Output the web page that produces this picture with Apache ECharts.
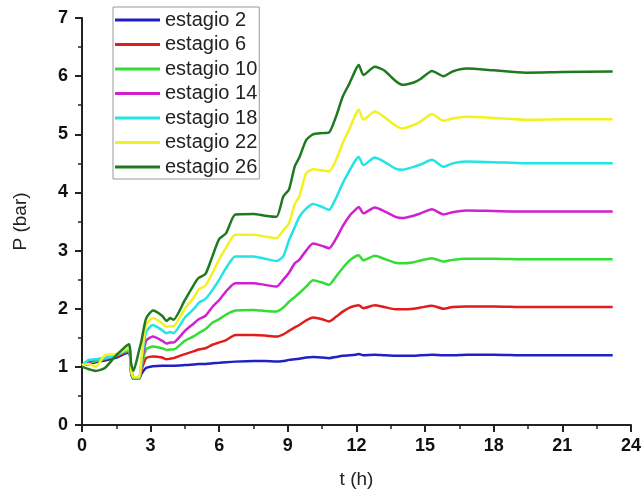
<!DOCTYPE html>
<html>
<head>
<meta charset="utf-8">
<script src="https://cdn.jsdelivr.net/npm/echarts@6/dist/echarts.min.js"></script>
<style>
html,body{margin:0;padding:0;background:#fff;}
#chart{width:644px;height:496px;}
</style>
</head>
<body>
<div id="chart"></div>
<script>
// time in hours (shared by all series)
var hours = [0, 0.3, 0.6, 1.0, 1.5, 2.05, 2.15, 2.25, 2.5, 2.6, 2.8, 3.1, 3.5, 3.7, 3.85, 4.0, 4.5, 4.9, 5.1, 5.4, 5.7, 6.0, 6.3, 6.7, 7.5, 8.0, 8.5, 8.8, 9.05, 9.3, 9.5, 9.8, 10.1, 10.5, 10.8, 11.1, 11.4, 11.7, 11.95, 12.1, 12.3, 12.8, 13.2, 13.7, 14.0, 14.5, 14.8, 15.3, 15.8, 16.2, 16.8, 18.0, 19.4, 21, 23.2];

var seriesNames = ['estagio 2', 'estagio 6', 'estagio 10', 'estagio 14', 'estagio 18', 'estagio 22', 'estagio 26'];
var seriesColors = ['#2020c4', '#e01c1c', '#33dd33', '#d020d0', '#22e4e4', '#f2f222', '#1f7a1f'];

var estagio2 = [1.03, 1.05, 1.08, 1.11, 1.16, 1.25, 0.9, 0.8, 0.8, 0.88, 0.98, 1.01, 1.02, 1.02, 1.02, 1.02, 1.03, 1.04, 1.05, 1.05, 1.06, 1.07, 1.08, 1.09, 1.1, 1.1, 1.09, 1.1, 1.12, 1.13, 1.14, 1.16, 1.17, 1.16, 1.15, 1.17, 1.19, 1.2, 1.21, 1.22, 1.2, 1.21, 1.2, 1.19, 1.19, 1.19, 1.2, 1.21, 1.2, 1.2, 1.21, 1.21, 1.2, 1.2, 1.2];
var estagio6 = [1.03, 1.06, 1.1, 1.13, 1.18, 1.27, 0.9, 0.8, 0.8, 0.95, 1.15, 1.18, 1.16, 1.13, 1.14, 1.15, 1.22, 1.27, 1.3, 1.32, 1.38, 1.42, 1.46, 1.55, 1.55, 1.54, 1.52, 1.56, 1.62, 1.68, 1.72, 1.8, 1.85, 1.82, 1.78, 1.86, 1.95, 2.02, 2.05, 2.06, 2.01, 2.06, 2.03, 1.99, 1.99, 2.0, 2.02, 2.05, 2.0, 2.03, 2.04, 2.04, 2.03, 2.03, 2.03];
var estagio10 = [1.03, 1.07, 1.1, 1.14, 1.2, 1.28, 0.92, 0.8, 0.8, 1.0, 1.3, 1.35, 1.32, 1.29, 1.3, 1.3, 1.45, 1.53, 1.58, 1.65, 1.76, 1.82, 1.9, 1.97, 1.98, 1.96, 1.95, 2.02, 2.12, 2.2, 2.27, 2.38, 2.49, 2.45, 2.41, 2.55, 2.7, 2.83, 2.9, 2.92, 2.83, 2.91, 2.86, 2.79, 2.78, 2.8, 2.83, 2.87, 2.81, 2.84, 2.86, 2.86, 2.85, 2.85, 2.85];
var estagio14 = [1.03, 1.08, 1.13, 1.15, 1.2, 1.3, 0.95, 0.82, 0.82, 1.05, 1.45, 1.52, 1.45, 1.4, 1.42, 1.42, 1.62, 1.75, 1.82, 1.88, 2.03, 2.15, 2.3, 2.44, 2.44, 2.41, 2.38, 2.5, 2.62, 2.78, 2.84, 3.0, 3.12, 3.08, 3.04, 3.2, 3.42, 3.6, 3.7, 3.75, 3.64, 3.74, 3.68, 3.58, 3.56, 3.6, 3.64, 3.71, 3.62, 3.66, 3.69, 3.68, 3.67, 3.67, 3.67];
var estagio18 = [1.03, 1.12, 1.13, 1.15, 1.2, 1.3, 0.95, 0.82, 0.82, 1.1, 1.6, 1.72, 1.63, 1.58, 1.6, 1.58, 1.85, 2.0, 2.1, 2.17, 2.32, 2.5, 2.7, 2.9, 2.9, 2.86, 2.82, 2.9, 3.18, 3.4, 3.58, 3.72, 3.8, 3.75, 3.7, 3.9, 4.16, 4.38, 4.55, 4.61, 4.47, 4.6, 4.53, 4.41, 4.39, 4.44, 4.48, 4.56, 4.44, 4.5, 4.53, 4.52, 4.5, 4.5, 4.5];
var estagio22 = [1.03, 1.05, 1.0, 1.2, 1.22, 1.33, 0.95, 0.82, 0.82, 1.15, 1.72, 1.84, 1.75, 1.69, 1.7, 1.7, 2.0, 2.2, 2.33, 2.4, 2.61, 2.85, 3.05, 3.27, 3.27, 3.24, 3.21, 3.35, 3.47, 3.8, 3.93, 4.33, 4.4, 4.38, 4.36, 4.55, 4.85, 5.1, 5.33, 5.42, 5.25, 5.39, 5.3, 5.15, 5.1, 5.16, 5.22, 5.35, 5.23, 5.27, 5.3, 5.28, 5.25, 5.26, 5.26];
var estagio26 = [1.0, 0.96, 0.93, 0.98, 1.2, 1.39, 1.05, 0.93, 1.29, 1.45, 1.83, 1.97, 1.88, 1.79, 1.84, 1.81, 2.15, 2.42, 2.53, 2.6, 2.9, 3.2, 3.3, 3.62, 3.63, 3.6, 3.58, 3.93, 4.05, 4.45, 4.6, 4.9, 5.0, 5.02, 5.03, 5.3, 5.65, 5.88, 6.1, 6.19, 6.02, 6.16, 6.1, 5.92, 5.85, 5.89, 5.95, 6.09, 6.0, 6.08, 6.13, 6.1, 6.06, 6.07, 6.08];

var allValues = [estagio2, estagio6, estagio10, estagio14, estagio18, estagio22, estagio26];

var xTicks = {min: 0, max: 24, interval: 3};
var yTicks = {min: 0, max: 7, interval: 1};

var FONT = 'Liberation Sans, Arial, sans-serif';

var chart = echarts.init(document.getElementById('chart'), null, {renderer: 'canvas'});

var series = allValues.map(function (vals, i) {
  return {
    name: seriesNames[i],
    type: 'line',
    data: hours.map(function (t, k) { return [t, vals[k]]; }),
    showSymbol: false,
    symbol: 'none',
    smooth: 0.2,
    lineStyle: {color: seriesColors[i], width: 2.5},
    itemStyle: {color: seriesColors[i]},
    animation: false,
    z: 2 + i
  };
});

var axisCommon = {
  axisLine: {show: true, onZero: false, lineStyle: {color: '#222', width: 2}},
  axisTick: {show: true, inside: false, length: 7, lineStyle: {color: '#222', width: 2}},
  minorTick: {show: true, splitNumber: 2, length: 4, lineStyle: {color: '#222', width: 1.5}},
  splitLine: {show: false},
  axisLabel: {color: '#111', fontSize: 18, fontWeight: 'bold', fontFamily: FONT}
};

chart.setOption({
  animation: false,
  backgroundColor: '#fff',
  grid: {left: 82, right: 11, top: 18, bottom: 71, containLabel: false},
  legend: {
    data: seriesNames,
    orient: 'vertical',
    left: 113,
    top: 7,
    padding: [3, 2, 2, 2],
    itemWidth: 45,
    itemHeight: 3,
    itemGap: 4.5,
    icon: 'rect',
    borderColor: '#999',
    borderWidth: 1,
    backgroundColor: '#fff',
    textStyle: {fontSize: 20, fontFamily: FONT, color: '#222', lineHeight: 20, padding: [0, 0, 0, 0]}
  },
  xAxis: Object.assign({
    type: 'value',
    min: xTicks.min, max: xTicks.max, interval: xTicks.interval,
    name: 't (h)',
    nameLocation: 'middle',
    nameGap: 45,
    nameTextStyle: {fontSize: 19, fontFamily: FONT, color: '#222'}
  }, axisCommon, {axisLabel: Object.assign({}, axisCommon.axisLabel, {margin: 12})}),
  yAxis: Object.assign({
    type: 'value',
    min: yTicks.min, max: yTicks.max, interval: yTicks.interval,
    name: 'P (bar)',
    nameLocation: 'middle',
    nameGap: 52,
    nameTextStyle: {fontSize: 19, fontFamily: FONT, color: '#222'}
  }, axisCommon, {axisLabel: Object.assign({}, axisCommon.axisLabel, {margin: 14})}),
  series: series
});
</script>
</body>
</html>
